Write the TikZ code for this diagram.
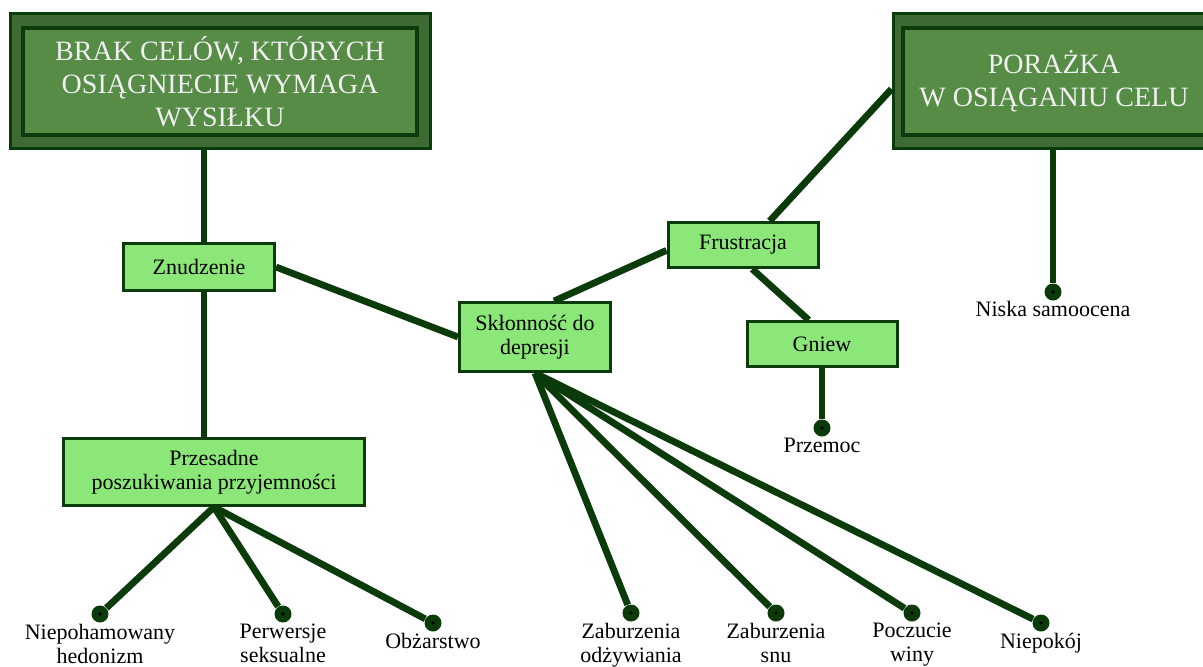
\documentclass[tikz,border=0pt]{standalone}
\usepackage{fontspec}
\setmainfont{Liberation Serif}
\usepackage{tikz}
\usetikzlibrary{positioning,backgrounds}
\definecolor{linegreen}{HTML}{0B3B0B}
\definecolor{boxgreen}{HTML}{8BE878}
\definecolor{outergreen}{HTML}{3E6A34}
\definecolor{innergreen}{HTML}{568C46}
\tikzset{
  link/.style={draw=linegreen, line width=3.4pt},
  smallbox/.style={draw=linegreen, fill=boxgreen, line width=1.5pt,
    align=center, inner sep=1pt},
  bigouter/.style={draw=linegreen, fill=outergreen, line width=1.5pt,
    minimum height=67.5pt, inner sep=0pt},
  biginner/.style={draw=linegreen, fill=innergreen, line width=2pt,
    minimum height=53.5pt, inner sep=0pt, align=center, text=white!94!black,
    font=\fontsize{14}{16.5}\selectfont},
  leaf/.style={circle, fill=linegreen, minimum size=8.5pt, inner sep=0pt,
    path picture={\fill[black] (path picture bounding box.center) circle (0.9pt);}},
  leaflabel/.style={align=center, inner sep=0.5pt},
}
\begin{document}
\begin{tikzpicture}[x=0.5pt,y=-0.5pt,font=\fontsize{11}{12}\selectfont]
\useasboundingbox (0,0) rectangle (1203,666);
% top boxes
\node[bigouter, minimum width=210pt] (brak) at (220,80.5) {};
\node[biginner, minimum width=197pt] (brakin) at (220,81.5)
  {BRAK CELÓW, KTÓRYCH\\OSIĄGNIECIE WYMAGA\\WYSIŁKU};
\node[bigouter, minimum width=161pt] (porazka) at (1054,80.5) {};
\node[biginner, minimum width=151pt] (porazkain) at (1054,81.5)
  {PORAŻKA\\W OSIĄGANIU CELU};
% middle boxes
\node[smallbox, minimum width=75.5pt, minimum height=23.5pt] (znu) at (199,267) {Znudzenie};
\node[smallbox, minimum width=75pt, minimum height=22.5pt] (frus) at (743,245) {Frustracja};
\node[smallbox, minimum width=75.5pt, minimum height=34.5pt] (skl) at (535,337) {Skłonność do\\depresji};
\node[smallbox, minimum width=75pt, minimum height=22.5pt] (gniew) at (822,344) {Gniew};
\node[smallbox, minimum width=150.5pt, minimum height=33.5pt] (przes) at (214,472)
  {Przesadne\\poszukiwania przyjemności};
\coordinate (axl) at (204,300);
% leaves
\node[leaf] (hed) at (100,614) {};
\node[leaf] (per) at (283,614) {};
\node[leaf] (obz) at (433,623) {};
\node[leaf] (zod) at (631,613) {};
\node[leaf] (zsn) at (776,613) {};
\node[leaf] (win) at (912,613) {};
\node[leaf] (nie) at (1041,623) {};
\node[leaf] (prz) at (822,428) {};
\node[leaf] (nis) at (1053,292) {};
\node[leaflabel, below=0pt of hed] (hedl) {Niepohamowany\\hedonizm};
\node[leaflabel, below=0pt of per] (perl) {Perwersje\\seksualne};
\node[leaflabel, below=0pt of obz] (obzl) {Obżarstwo};
\node[leaflabel, below=0pt of zod] (zodl) {Zaburzenia\\odżywiania};
\node[leaflabel, below=0pt of zsn] (zsnl) {Zaburzenia\\snu};
\node[leaflabel, below=0pt of win] (winl) {Poczucie\\winy};
\node[leaflabel, below=0pt of nie] (niel) {Niepokój};
\node[leaflabel, below=0pt of prz] (przl) {Przemoc};
\node[leaflabel, below=-0.5pt of nis] (nisl) {Niska samoocena};
% connectors
\begin{scope}[on background layer]
\draw[link]
  (brak.south -| axl) -- (axl |- przes.north);
\draw[link]
  (znu.east) -- (skl.west);
\draw[link]
  (skl.62) -- (frus.184);
\draw[link]
  (frus.42) -- (porazka.183);
\draw[link]
  (frus.291) -- (gniew.119);
\draw[link]
  (gniew.south) -- (prz);
\draw[link]
  (porazka.south -| nis) -- (nis);
\foreach \leafname in {hed,per,obz}
  \draw[link] (przes.south) -- (\leafname);
\foreach \leafname in {zod,zsn,win,nie}
  \draw[link] (skl.south) -- (\leafname);
\end{scope}
\end{tikzpicture}
\end{document}
